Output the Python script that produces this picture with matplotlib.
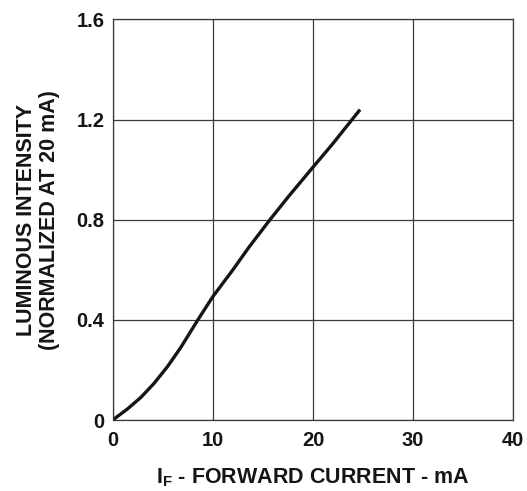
#!/usr/bin/env python3

import matplotlib
matplotlib.use('Agg')
import matplotlib.pyplot as plt

# forward current (mA) and normalized luminous intensity
current = [0.0, 1.5, 2.8, 4.1, 5.5, 6.8, 8.5, 10.0, 12.0, 13.6, 15.7,
    17.6, 20.0, 21.9, 24.7]
intensity = [0.0, 0.045, 0.09, 0.145, 0.215, 0.29, 0.40, 0.493, 0.60,
    0.69, 0.80, 0.895, 1.01, 1.10, 1.24]

xticks = [0, 10, 20, 30, 40]
yticks = [0, 0.4, 0.8, 1.2, 1.6]
ytick_labels = ['0', '0.4', '0.8', '1.2', '1.6']

plt.rcParams['font.family'] = 'Liberation Sans'
plt.rcParams['font.weight'] = 'bold'
plt.rcParams['mathtext.fontset'] = 'custom'
plt.rcParams['mathtext.rm'] = 'Liberation Sans:bold'
plt.rcParams['mathtext.default'] = 'rm'

ink = '#151515'
grid = '#3a3a3a'

figure = plt.figure(figsize=(5.27, 4.91), dpi=100)
ax = figure.add_axes([0.2139, 0.1446, 0.7600, 0.8157])

ax.plot(current, intensity, color=ink, linewidth=2.4,
    solid_capstyle='butt', solid_joinstyle='round')

ax.set_xlim(0, 40)
ax.set_ylim(0, 1.6)
ax.set_xticks(xticks)
ax.set_yticks(yticks)
ax.set_yticklabels(ytick_labels)

ax.grid(True, color=grid, linewidth=0.9)
ax.set_axisbelow(True)
for spine in ax.spines.values():
    spine.set_color(grid)
    spine.set_linewidth(0.9)

ax.tick_params(length=0, labelsize=14.5, colors=ink)
ax.tick_params(axis='x', pad=8)
ax.tick_params(axis='y', pad=6)

ax.set_xlabel(r'I$_{F}$ - FORWARD CURRENT - mA', fontsize=15.5,
    fontweight='bold', color=ink, labelpad=12)
ax.set_ylabel('LUMINOUS INTENSITY\n(NORMALIZED AT 20 mA)', fontsize=15.5,
    fontweight='bold', color=ink, labelpad=12, linespacing=1.1)

figure.savefig('out.png', dpi=100)
